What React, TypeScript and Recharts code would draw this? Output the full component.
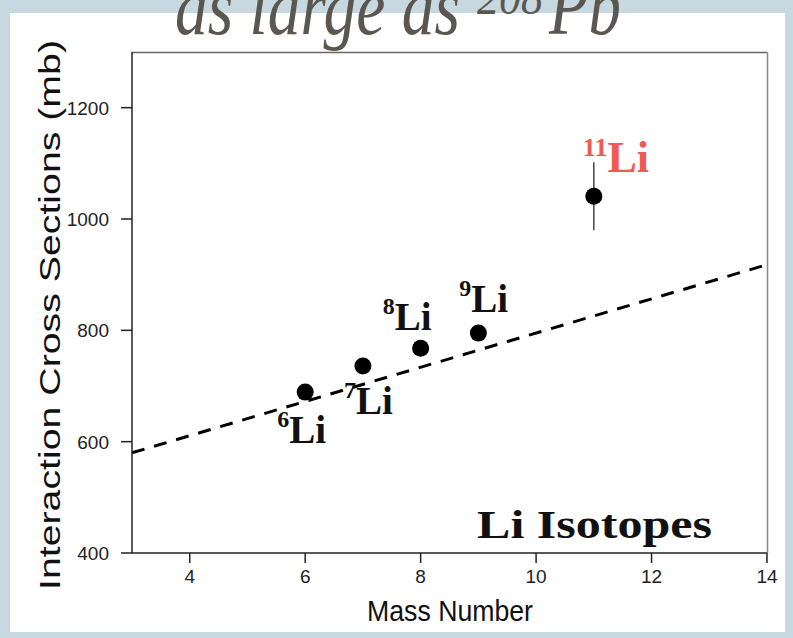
import React from 'react';
import {
  ScatterChart, Scatter, XAxis, YAxis, ReferenceLine, ErrorBar, Customized, Label,
} from 'recharts';

const isotopeMass = ['6', '7', '8', '9', '11'];
const massNumbers = [6, 7, 8, 9, 11];
const crossSections = [689, 736, 768, 795, 1041];
const crossErrors = [0, 0, 0, 0, 61];
const fitX = [3, 14];
const fitY = [580, 918];
const xTicks = [4, 6, 8, 10, 12, 14];
const yTicks = [400, 600, 800, 1000, 1200];

const data = massNumbers.map((m, i) => ({
  mass: m,
  sigma: crossSections[i],
  err: crossErrors[i],
  iso: isotopeMass[i],
}));

// label placement relative to the point (style only)
const labelOffset: Record<string, [number, number]> = {
  '6': [-28, 51],
  '7': [-19, 48],
  '8': [-38, -18],
  '9': [-19, -21],
  '11': [-11, -24],
};

const SERIF = '"Liberation Serif", "Times New Roman", serif';
const SANS = '"Liberation Sans", Arial, sans-serif';

const PointShape = (props: any) => {
  const { cx, cy, payload } = props;
  const iso = payload.iso as string;
  const [dx, dy] = labelOffset[iso] || [0, 0];
  const red = iso === '11';
  const color = red ? '#ef5a52' : '#111';
  return (
    <g>
      <circle cx={cx} cy={cy} r={8.5} fill="#000" />
      <text x={cx + dx} y={cy + dy} fill={color} fontFamily={SERIF} fontWeight="bold">
        <tspan fontSize={red ? 26 : 24} dy={-16}>{iso}</tspan>
        <tspan fontSize={red ? 44 : 39} dy={16}>Li</tspan>
      </text>
    </g>
  );
};

const XTick = (props: any) => {
  const { x, y, payload } = props;
  return (
    <text x={x} y={y + 18} textAnchor="middle" fill="#222" fontFamily={SANS} fontSize={19}>
      {payload.value}
    </text>
  );
};

const YTick = (props: any) => {
  const { x, y, payload } = props;
  return (
    <text x={x} y={y + 7} textAnchor="end" fill="#222" fontFamily={SANS} fontSize={19}>
      {payload.value}
    </text>
  );
};

const Decorations = () => (
  <g>
    <text x={175} y={34} fill="#5b5650" fontFamily={SERIF} fontStyle="italic" fontSize={80} textLength={285} lengthAdjust="spacingAndGlyphs">as large as</text>
    <text x={477} y={14} fill="#5b5650" fontFamily={SERIF} fontStyle="italic" fontSize={48} textLength={66} lengthAdjust="spacingAndGlyphs">208</text>
    <text x={549} y={34} fill="#5b5650" fontFamily={SERIF} fontStyle="italic" fontSize={84} textLength={72} lengthAdjust="spacingAndGlyphs">Pb</text>
    <text x={477} y={538} fill="#111" fontFamily={SERIF} fontWeight="bold" fontSize={39} textLength={235} lengthAdjust="spacingAndGlyphs">Li Isotopes</text>
    <line x1={132} y1={52.5} x2={767.5} y2={52.5} stroke="#666" strokeWidth={1.5} />
    <line x1={767.5} y1={52.5} x2={767.5} y2={553} stroke="#888" strokeWidth={1.5} />
  </g>
);

export default function App() {
  return (
    <div style={{ position: 'fixed', left: 0, top: 0, width: 793, height: 638, background: '#c8d8e1', overflow: 'hidden' }}>
      <div style={{ position: 'absolute', left: 10, top: 13, width: 775, height: 619, background: '#fff' }} />
      <div style={{ position: 'absolute', left: 0, top: 0 }}>
        <ScatterChart width={793} height={638} margin={{ top: 52, right: 26, bottom: 45, left: 72 }}>
          <XAxis
            type="number"
            dataKey="mass"
            domain={[3, 14]}
            ticks={xTicks}
            allowDataOverflow
            height={40}
            tickSize={10}
            tickMargin={2}
            stroke="#222"
            strokeWidth={1.5}
            tick={XTick}
          >
            <Label
              content={() => (
                <text x={367} y={621} fill="#111" fontFamily={SANS} fontSize={30} textLength={166} lengthAdjust="spacingAndGlyphs">Mass Number</text>
              )}
            />
          </XAxis>
          <YAxis
            type="number"
            dataKey="sigma"
            domain={[400, 1300]}
            ticks={yTicks}
            allowDataOverflow
            width={60}
            tickSize={11}
            tickMargin={12}
            stroke="#222"
            strokeWidth={1.5}
            tick={YTick}
          >
            <Label
              content={() => (
                <text
                  x={0}
                  y={0}
                  transform="translate(60,590) rotate(-90)"
                  fill="#111"
                  fontFamily={SANS}
                  fontSize={30}
                  textLength={550}
                  lengthAdjust="spacingAndGlyphs"
                >
                  Interaction Cross Sections (mb)
                </text>
              )}
            />
          </YAxis>
          <ReferenceLine
            segment={[{ x: fitX[0], y: fitY[0] }, { x: fitX[1], y: fitY[1] }]}
            stroke="#000"
            strokeWidth={3}
            strokeDasharray="13 10"
            ifOverflow="visible"
          />
          <Scatter data={data} isAnimationActive={false} shape={PointShape}>
            <ErrorBar dataKey="err" direction="y" width={0} stroke="#444" strokeWidth={1.5} />
          </Scatter>
          <Customized component={Decorations} />
        </ScatterChart>
      </div>
    </div>
  );
}
